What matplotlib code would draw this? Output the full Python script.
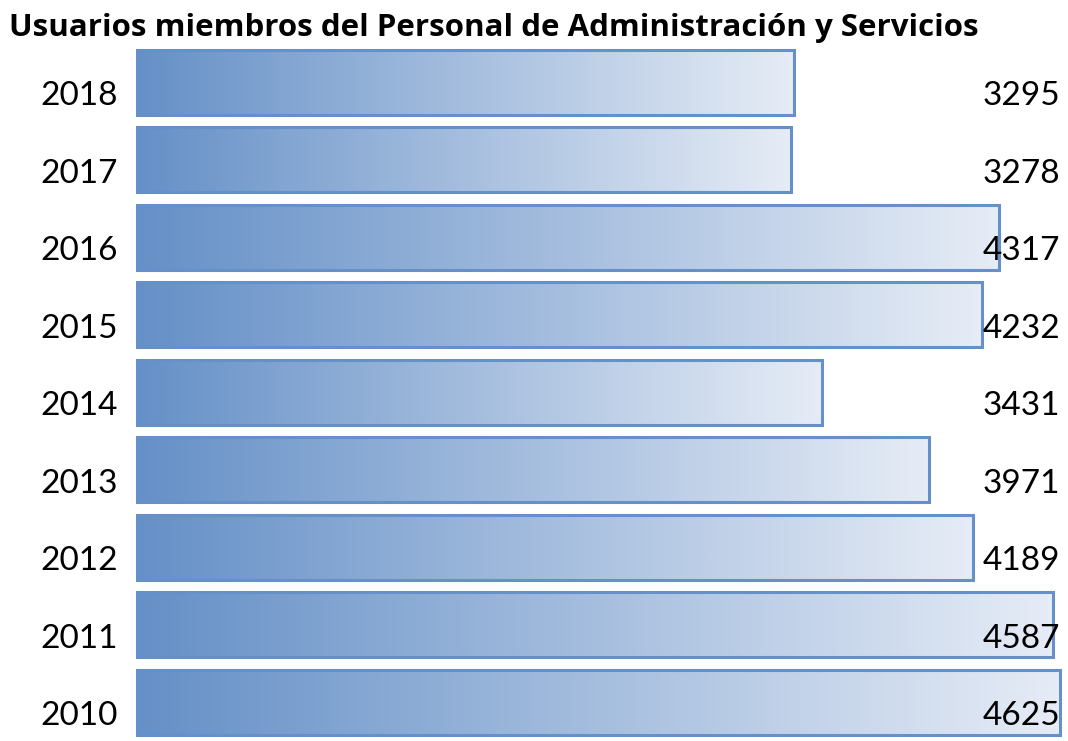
import matplotlib.pyplot as plt
import numpy as np
from matplotlib.colors import LinearSegmentedColormap
from matplotlib.patches import Rectangle

# data (top to bottom)
years = ['2018', '2017', '2016', '2015', '2014', '2013', '2012', '2011', '2010']
users = [3295, 3278, 4317, 4232, 3431, 3971, 4189, 4587, 4625]

title = 'Usuarios miembros del Personal de Administración y Servicios'

plt.rcParams['font.family'] = ['Lato', 'DejaVu Sans']

fig = plt.figure(figsize=(10.68, 7.41), dpi=100)
ax = fig.add_axes([0.127, 0.0, 0.867, 0.941])

grad = LinearSegmentedColormap.from_list('grad', ['#6590c7', '#e6ecf6'])
edge = '#6590c8'
gradient = np.linspace(0, 1, 256).reshape(1, -1)

n = len(years)
ypos = np.arange(n)[::-1]
h = 0.84

bars = ax.barh(ypos, users, height=h, color='none', edgecolor=edge, linewidth=2.2, zorder=3)
for bar, val, y in zip(bars, users, ypos):
    im = ax.imshow(gradient, cmap=grad, aspect='auto', zorder=2,
                   extent=[0, val, y - h / 2, y + h / 2], interpolation='bicubic')
    clip = Rectangle((0, y - h / 2), val, h, transform=ax.transData)
    im.set_clip_path(clip)

for year, val, y in zip(years, users, ypos):
    ax.annotate(year, xy=(0, y), xycoords=('axes fraction', 'data'),
                xytext=(-13, -10), textcoords='offset points',
                ha='right', va='center', fontsize=24, zorder=4)
    ax.annotate(str(val), xy=(1, y), xycoords=('axes fraction', 'data'),
                xytext=(-1, -10), textcoords='offset points',
                ha='right', va='center', fontsize=24, zorder=4)

ax.set_xlim(0, 4632)
ax.set_ylim(-0.5, n - 0.5)
ax.axis('off')

fig.text(0.008, 0.951, title, fontsize=22.5, fontweight='bold', family=['Open Sans', 'DejaVu Sans'],
         ha='left', va='baseline')

fig.savefig('out.png', dpi=100)
